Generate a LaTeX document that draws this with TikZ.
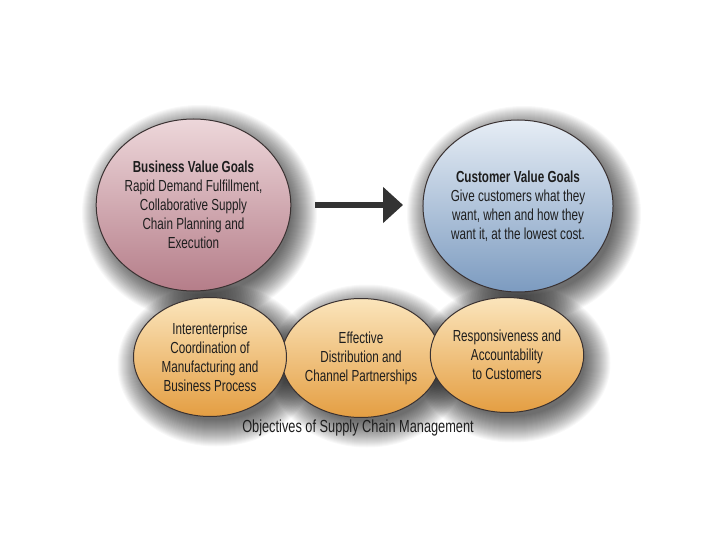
\documentclass[tikz,border=0pt]{standalone}
\usepackage{fontspec}
\setmainfont[FakeStretch=0.73]{Liberation Sans}
\usetikzlibrary{shapes.geometric,arrows.meta,backgrounds}
\definecolor{txt}{HTML}{1E1E1E}
\definecolor{edge}{HTML}{3A3232}
\definecolor{pinkT}{HTML}{EDD7DA}
\definecolor{pinkB}{HTML}{B57D89}
\definecolor{blueT}{HTML}{E6EDF5}
\definecolor{blueB}{HTML}{7C9BC0}
\definecolor{orT}{HTML}{FBE5BC}
\definecolor{orB}{HTML}{E49E42}
\definecolor{arr}{HTML}{333333}
\tikzset{
  goal/.style={ellipse, draw=edge, line width=1pt, inner sep=0pt,
    text=txt, align=center, font=\fontsize{16}{19}\selectfont},
  pinkgoal/.style={goal, top color=pinkT, bottom color=pinkB, minimum width=191pt, minimum height=172pt},
  bluegoal/.style={goal, top color=blueT, bottom color=blueB, minimum width=190pt, minimum height=172pt},
  orgoal/.style={goal, top color=orT, bottom color=orB, minimum width=153pt, minimum height=119pt},
  captext/.style={text=txt, font=\fontsize{17.5}{20}\selectfont, inner sep=0pt},
  bigarrow/.style={draw=arr, line width=6.5pt, -{Triangle[length=20pt,width=35pt]}},
  shadowlayer/.style={black, opacity=0.028}
}
\newcommand\softshade[3]{%
  \foreach \i in {-4,...,22}{%
    \fill[shadowlayer, shift={(#1.center)}] (6,8) ellipse [x radius={#2+\i}, y radius={#3+\i}];
  }%
}
\begin{document}
\begin{tikzpicture}[x=1pt,y=-1pt]
\useasboundingbox (0,0) rectangle (720,540);
\node[pinkgoal] (biz) at (193.5,205) {\textbf{Business Value Goals}\\Rapid Demand Fulfillment,\\Collaborative Supply\\Chain Planning and\\Execution};
\node[bluegoal] (cust) at (518,206) {\textbf{Customer Value Goals}\\Give customers what they\\want, when and how they\\want it, at the lowest cost.};
\node[orgoal] (mid) at (361,358) {Effective\\Distribution and\\Channel Partnerships};
\node[orgoal] (left) at (210,357) {Interenterprise\\Coordination of\\Manufacturing and\\Business Process};
\node[orgoal, minimum width=151pt, minimum height=115pt] (right) at (507,355) {Responsiveness and\\Accountability\\to Customers};
\node[captext] (cap) at (358,428) {Objectives of Supply Chain Management};
\coordinate (arrS) at (315,205);
\coordinate (arrE) at (403,205);
\draw[bigarrow] (arrS) -- (arrE);
\begin{scope}[on background layer]
  \fill[white] (0,0) rectangle (720,540);
  \softshade{biz}{95.5}{86}
  \softshade{cust}{95}{86}
  \softshade{mid}{76.5}{59.5}
  \softshade{left}{76.5}{59.5}
  \softshade{right}{75.5}{57.5}
\end{scope}
\end{tikzpicture}
\end{document}
